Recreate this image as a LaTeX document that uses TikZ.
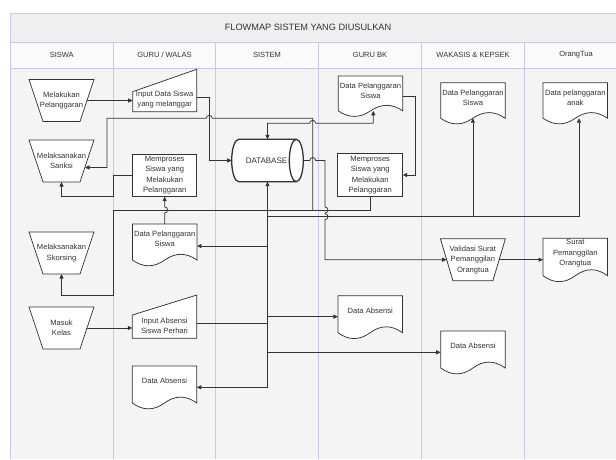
\documentclass[tikz,border=0pt]{standalone}
\usepackage{fontspec}
\setmainfont{Liberation Sans}
\usetikzlibrary{arrows.meta}

\definecolor{lane}{HTML}{C8C8F4}
\definecolor{bodybg}{HTML}{F4F4F4}
\definecolor{titlebg}{HTML}{EFEFEF}
\definecolor{headbg}{HTML}{FAFAFA}
\definecolor{ink}{HTML}{333333}

\tikzset{
  txt/.style={font=\fontsize{7.6}{10.4}\selectfont, text=ink, align=center, inner sep=0pt},
  headtxt/.style={font=\fontsize{7.5}{9}\selectfont, text=ink, inner sep=0pt},
  titletxt/.style={font=\fontsize{9.2}{11}\selectfont, text=ink, inner sep=0pt},
  shapebox/.style={inner sep=0pt, outer sep=0pt, draw=none},
  outline/.style={draw=ink, fill=white, line width=0.75pt, line join=miter},
  laneline/.style={draw=lane, line width=0.8pt},
  conn/.style={draw=ink, line width=0.75pt},
  arr/.style={conn, -{Triangle[length=4.5pt,width=4pt]}},
  arrboth/.style={conn, {Triangle[length=4.5pt,width=4pt]}-{Triangle[length=4.5pt,width=4pt]}},
}

% manual operation: wide top, narrow bottom
% #1 name, #2 centre, #3 inset of the bottom corners, #4 text
\newcommand\trapnode[4]{%
  \node[shapebox, minimum width=65pt, minimum height=42pt] (#1) at (#2) {};
  \draw[outline] (#1.north west) -- (#1.north east) -- ([xshift=-#3pt]#1.south east)
    -- ([xshift=#3pt]#1.south west) -- cycle;
  \node[txt] (#1-t) at (#1.center) {#4};
}
% manual input: top edge slopes up to the right
% #1 name, #2 centre, #3 width, #4 height, #5 drop of the top-left corner, #6 text
\newcommand\maninnode[6]{%
  \node[shapebox, minimum width=#3pt, minimum height=#4pt] (#1) at (#2) {};
  \draw[outline] ([yshift=-#5pt]#1.north west) -- (#1.north east) -- (#1.south east)
    -- (#1.south west) -- cycle;
  \node[txt] (#1-t) at ([yshift=-9.3pt]#1.center) {#6};
}
% process box: #1 name, #2 centre, #3 width, #4 height, #5 text
\newcommand\procnode[5]{%
  \node[shapebox, outline, minimum width=#3pt, minimum height=#4pt] (#1) at (#2) {};
  \node[txt] (#1-t) at (#1.center) {#5};
}
% document with wavy bottom: #1 name, #2 top centre, #3 full height, #4 text
\newcommand\docnode[4]{%
  \node[shapebox, anchor=north, minimum width=64.5pt, minimum height={0.85*#3pt}] (#1) at (#2) {};
  \draw[outline, shift={(#1.north west)}, x=64.5pt, y=-#3pt]
    (0,0) -- (1,0) -- (1,.85) .. controls (.8333,.67) and (.6667,.67) .. (.5,.85)
    .. controls (.3333,1.03) and (.1667,1.03) .. (0,.85) -- cycle;
  \node[txt] (#1-t) at ([yshift=-15pt]#1.north) {#4};
}

\begin{document}
\begin{tikzpicture}[x=1pt,y=-1pt]
\useasboundingbox (0,0) rectangle (616,459);
\fill[white] (0,0) rectangle (616,459);

% ---- swimlane frame ----
\fill[titlebg] (10,13) rectangle (616,42);
\fill[headbg] (10,42) rectangle (616,68);
\fill[bodybg] (10,68) rectangle (616,459);
\draw[laneline] (616,13) -- (10,13) -- (10,459);
\draw[laneline] (10,42) -- (616,42);
\draw[laneline] (10,68) -- (616,68);
\foreach \lx in {113.3,215.7,318.3,421.7,524.3}
  \draw[laneline] (\lx,42) -- (\lx,459);

\node[titletxt] (title) at (308,27) {FLOWMAP SISTEM YANG DIUSULKAN};
\node[headtxt] (h1) at (61.7,55) {SISWA};
\node[headtxt] (h2) at (164.5,55) {GURU / WALAS};
\node[headtxt] (h3) at (267,55) {SISTEM};
\node[headtxt] (h4) at (370,55) {GURU BK};
\node[headtxt] (h5) at (473,55) {WAKASIS \& KEPSEK};
\node[headtxt] (h6) at (576,55) {OrangTua};

% ---- SISWA ----
\trapnode{T1}{61.5,100.5}{14}{Melakukan\\Pelanggaran}
\trapnode{T2}{61.5,161}{14}{Melaksanakan\\Sanksi}
\trapnode{T3}{61.5,253}{14}{Melaksanakan\\Skorsing}
\trapnode{T4}{61.5,328}{14}{Masuk\\Kelas}

% ---- GURU / WALAS ----
\maninnode{M1}{164.7,90.5}{64}{42.4}{22.4}{Input Data Siswa\\yang melanggar}
\procnode{R1}{164.7,175.3}{64}{42.7}{Memproses\\Siswa yang\\Melakukan\\Pelanggaran}
\docnode{D5}{164.7,224}{42.4}{Data Pelanggaran\\Siswa}
\maninnode{M2}{164.5,316.7}{64.4}{43.3}{20}{Input Absensi\\Siswa Perhari}
\docnode{D6}{164.5,366}{43.5}{Data Absensi}

% ---- SISTEM: database cylinder ----
\node[shapebox, minimum width=71.6pt, minimum height=42.4pt] (db) at (267.5,160.5) {};
\begin{scope}[shift={(db.center)}, x=1pt, y=1pt]
  \draw[outline, line width=1.3pt] (-28.8,21.2) -- (28.8,21.2)
    arc[start angle=90, end angle=-90, x radius=7, y radius=21.2]
    -- (-28.8,-21.2)
    arc[start angle=270, end angle=90, x radius=7, y radius=21.2] -- cycle;
  \draw[draw=ink, line width=1.3pt] (28.8,21.2)
    arc[start angle=90, end angle=270, x radius=7, y radius=21.2];
\end{scope}
\node[txt, font=\fontsize{8}{10}\selectfont] (db-t) at ([xshift=-1pt]db.center) {DATABASE};

% ---- GURU BK ----
\docnode{D1}{370.5,76}{41}{Data Pelanggaran\\Siswa}
\procnode{R2}{370.2,175}{65}{43.4}{Memproses\\Siswa yang\\Melakukan\\Pelanggaran}
\docnode{D8}{370.2,295.7}{43.5}{Data Absensi}

% ---- WAKASIS & KEPSEK ----
\docnode{D2}{472.9,82.7}{41.8}{Data Pelanggaran\\Siswa}
\trapnode{T5}{472.9,259.7}{12.5}{Validasi Surat\\Pemanggilan\\Orangtua}
\docnode{D7}{472.9,331}{43.5}{Data Absensi}

% ---- OrangTua ----
\docnode{D3}{575.3,82.7}{41.8}{Data pelanggaran\\anak}
\docnode{D4}{575.3,238.3}{44}{Surat\\Pemanggilan\\Orangtua}

% ---- connectors ----
% student violation -> input form
\coordinate (T1r) at ([xshift=-7pt]T1.east);
\draw[arr] (T1r) -- (T1r -| M1.west);

% input form -> database
\coordinate (M1r) at ([yshift=-6.8pt]M1.east);
\draw[arr] (M1r) -- ++(12.6,0) |- (db.west);

% database <-> violation document (GURU BK)
\draw[arrboth] (db.north) -- ++(0,-16) -- (309.7,123.3)
  arc[start angle=180, end angle=0, radius=3pt] -| ([xshift=2.8pt]D1.south);

% violation document -> processing (GURU BK)
\coordinate (D1r) at ([yshift=-3.2pt]D1.east);
\draw[arr] (D1r) -- ++(12.3,0) |- (R2.east);

% database -> validation of the summons letter
\coordinate (T5l) at ([xshift=6.3pt]T5.west);
\draw[arr] (db.east) -- (309.7,160.5) arc[start angle=180, end angle=0, radius=3pt]
  -- (325,160.5) -- (325,207) arc[start angle=90, end angle=-90, radius=3pt]
  -- (325,213.7) arc[start angle=90, end angle=-90, radius=3pt] |- (T5l);

% validation -> summons letter
\coordinate (T5r) at ([xshift=-6.3pt]T5.east);
\draw[arr] (T5r) -- (T5r -| D4.west);

% processing (GURU / WALAS) -> sanction
\draw[arr] (R1.west) -| (113.3,196.7) -| (T2.south);

% violation document (GURU / WALAS) -> processing
\draw[arr] (D5.north) -- (164.7,213) arc[start angle=-90, end angle=90, radius=3pt] -- (R1.south);

% processing (GURU BK) -> suspension and sanction
\draw[arr] (R2.south) |- (113.3,210) -- (113.3,295) -| (T3.south);
\coordinate (jb) at (312.7,210);
\coordinate (T2r) at ([xshift=-9pt,yshift=-6.5pt]T2.east);
\draw[arr] (jb) -- (312.7,118.3) -- (212.3,118.3)
  arc[start angle=0, end angle=180, radius=3pt] -- (107,118.3) |- (T2r);

% attendance input -> database, and the system trunk
\coordinate (M2r) at ([yshift=-6.6pt]M2.east);
\draw[arr] (M2r) -| (db.south);
\coordinate (j1) at (267.5,246);
\coordinate (j2) at (267.5,216.7);
\coordinate (j4) at (267.5,316.7);
\coordinate (j5) at (267.5,352.3);
\coordinate (j6) at (267.5,387.3);
\draw[conn] (db.south) -- (j6);
\draw[arr] (j1) -- (j1 -| D5.east);
\draw[arr] (j2) -| ([xshift=3.7pt]D3.south);
\draw[arr] (j2 -| D2.south) -- (D2.south);
\draw[arr] (j4) -- (j4 -| D8.west);
\draw[arr] (j5) -- (j5 -| D7.west);
\draw[arr] (j6) -- (j6 -| D6.east);

% class entry -> attendance input
\coordinate (T4r) at ([xshift=-7pt]T4.east);
\draw[arr] (T4r) -- (T4r -| M2.west);
\end{tikzpicture}
\end{document}
